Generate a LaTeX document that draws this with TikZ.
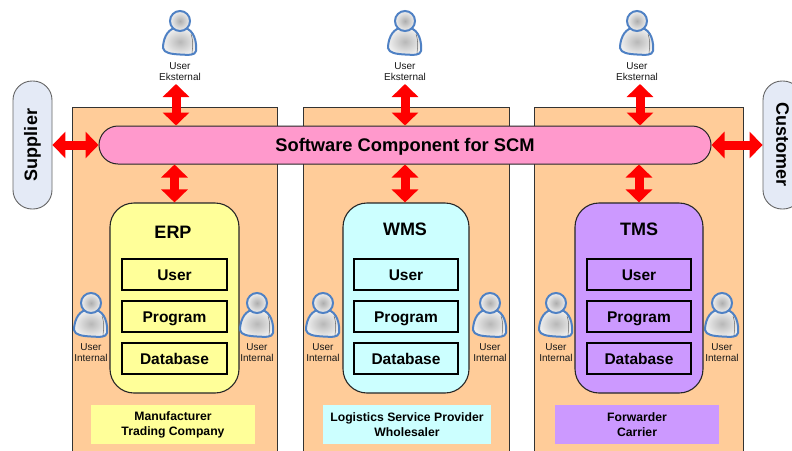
\documentclass[tikz,border=0pt]{standalone}
\usepackage{fontspec}
\setmainfont{Liberation Sans}
\usetikzlibrary{arrows.meta,calc}
\definecolor{panelc}{HTML}{FFCC99}
\definecolor{busc}{HTML}{FF99CC}
\definecolor{yel}{HTML}{FFFF99}
\definecolor{cya}{HTML}{CCFFFF}
\definecolor{pur}{HTML}{CC99FF}
\definecolor{sidec}{HTML}{E4EAF6}
\definecolor{lineg}{HTML}{333333}
\definecolor{ublue}{HTML}{4F81C4}
\tikzset{
  x=1pt,y=-1pt,
  panel/.style={draw=lineg,line width=0.8pt,fill=panelc,minimum width=#1,minimum height=360pt,anchor=north west,inner sep=0pt},
  bus/.style={draw=black!85,line width=1pt,fill=busc,rounded corners=19pt,minimum width=612pt,minimum height=38pt,inner sep=0pt,text height=16pt,text depth=3pt,font=\bfseries\fontsize{18.3}{20}\selectfont},
  side/.style={draw=black!60,line width=0.9pt,fill=sidec,rounded corners=19pt,minimum width=128pt,minimum height=39pt,inner sep=0pt,font=\bfseries\fontsize{18}{20}\selectfont},
  sys/.style={draw=black!85,line width=1.1pt,fill=#1,rounded corners=24pt,minimum height=190pt,inner sep=0pt},
  systitle/.style={font=\bfseries\fontsize{18}{20}\selectfont,inner sep=0pt},
  layer/.style={draw=black,line width=1.1pt,fill=#1,minimum height=31pt,inner sep=0pt,text height=15pt,text depth=3pt,font=\bfseries\fontsize{15.5}{17}\selectfont},
  caption/.style={fill=#1,minimum height=39pt,inner sep=0pt,align=center,font=\bfseries\fontsize{12.2}{15}\selectfont},
  ulabel/.style={align=center,inner sep=0pt,font=\fontsize{10}{11}\selectfont,text=black!90},
  link/.style={red,line width=9pt,{Triangle[length=13pt,width=26pt]}-{Triangle[length=13pt,width=26pt]}},
  person/.pic={
    \path[draw=ublue,line width=2pt,inner color=black!28,outer color=black!6]
      (-5,7) .. controls (-14,9) and (-17,20) .. (-17,27)
      .. controls (-16,32) and (-9,33) .. (0,33.5)
      .. controls (9,34) and (15,34.5) .. (16,30)
      .. controls (17,21) and (14,9) .. (5,7) -- cycle;
    \path[draw=ublue,line width=2pt,inner color=black!32,outer color=black!6] (0,0) circle (10);
    \draw[black!60,line width=0.5pt] (11,13) .. controls (13,18) and (13,25) .. (12,32);
  }
}
\begin{document}
\begin{tikzpicture}
\useasboundingbox (0,0) rectangle (792,450);
\clip (0,0) rectangle (792,450);
\fill[white] (0,0) rectangle (792,450);
% panels
\node[panel=205pt] (p1) at (72,107) {};
\node[panel=206pt] (p2) at (303,107) {};
\node[panel=209pt] (p3) at (534,107) {};
% side pills
\node[side,rotate=90] (sup) at (32.5,145) {Supplier};
\node[side,rotate=-90] (cus) at (782.5,145) {Customer};
% bus
\node[bus] (bus) at (405,145) {Software Component for SCM};
% systems
\node[sys=yel,minimum width=129pt] (erp) at (174.5,298) {};
\node[sys=cya,minimum width=126pt] (wms) at (406,298) {};
\node[sys=pur,minimum width=128pt] (tms) at (639,298) {};
\node[systitle] (terp) at (173,232) {ERP};
\node[systitle] (twms) at (405,229) {WMS};
\node[systitle] (ttms) at (639,229) {TMS};
% layers
\node[layer=yel,minimum width=105pt] (u1) at (174.5,274.5) {User};
\node[layer=yel,minimum width=105pt] (g1) at (174.5,316.5) {Program};
\node[layer=yel,minimum width=105pt] (d1) at (174.5,358.5) {Database};
\node[layer=cya,minimum width=104pt] (u2) at (406,274.5) {User};
\node[layer=cya,minimum width=104pt] (g2) at (406,316.5) {Program};
\node[layer=cya,minimum width=104pt] (d2) at (406,358.5) {Database};
\node[layer=pur,minimum width=104pt] (u3) at (639,274.5) {User};
\node[layer=pur,minimum width=104pt] (g3) at (639,316.5) {Program};
\node[layer=pur,minimum width=104pt] (d3) at (639,358.5) {Database};
% captions
\node[caption=yel,minimum width=164pt] (c1) at (173,424.5) {Manufacturer\\Trading Company};
\node[caption=cya,minimum width=168pt] (c2) at (407,424.5) {Logistics Service Provider\\Wholesaler};
\node[caption=pur,minimum width=164pt] (c3) at (637,424.5) {Forwarder\\Carrier};
% external users
\foreach \x/\n in {180/1,405/2,637/3}{
  \pic at (\x,21) {person};
  \node[ulabel] (ue\n) at (\x,71.5) {User\\Eksternal};
}
% internal users
\foreach \x/\n in {91/a,257/b,323/c,490/d,556/e,722/f}{
  \pic at (\x,303) {person};
  \node[ulabel] (ui\n) at (\x,353) {User\\Internal};
}
% connectors
\coordinate (t1) at (176,84);
\coordinate (t2) at (405,84);
\coordinate (t3) at (640,84);
\draw[link] (t1) -- (t1 |- bus.north);
\draw[link] (t2) -- (t2 |- bus.north);
\draw[link] (t3) -- (t3 |- bus.north);
\draw[link] (erp.north) -- (erp.north |- bus.south);
\draw[link] (wms.north -| t2) -- (t2 |- bus.south);
\draw[link] (tms.north) -- (tms.north |- bus.south);
\draw[link] (sup.south) -- (bus.west);
\draw[link] (bus.east) -- (cus.south);
\end{tikzpicture}
\end{document}
